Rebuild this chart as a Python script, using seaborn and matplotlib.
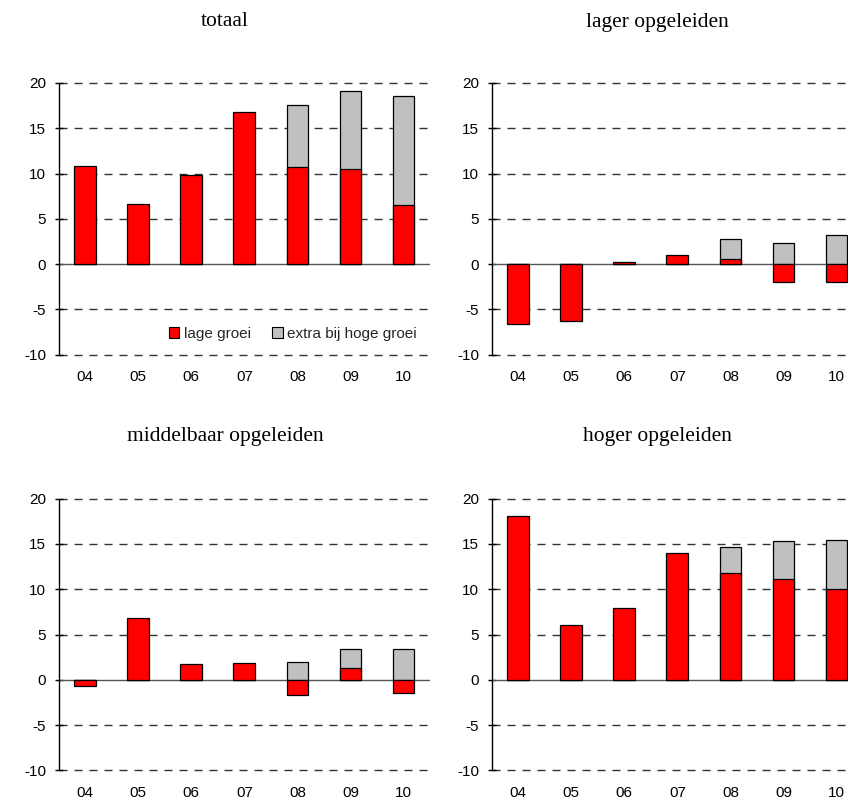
import numpy as np
import pandas as pd
import matplotlib
matplotlib.use("Agg")
import matplotlib.pyplot as plt
import seaborn as sns
from matplotlib.patches import Patch

YEARS = ["04", "05", "06", "07", "08", "09", "10"]

# lage groei (red) and extra bij hoge groei (grey) per group
TOTAAL_LAAG = [10.8, 6.6, 9.8, 16.8, 10.7, 10.5, 6.5]
TOTAAL_EXTRA = [0.0, 0.0, 0.0, 0.0, 6.9, 8.6, 12.1]

LAGER_LAAG = [-6.6, -6.3, 0.2, 1.0, 0.6, -2.0, -2.0]
LAGER_EXTRA = [0.0, 0.0, 0.0, 0.0, 2.2, 2.3, 3.25]

MIDDEL_LAAG = [-0.7, 6.85, 1.75, 1.85, -1.7, 1.25, -1.5]
MIDDEL_EXTRA = [0.0, 0.0, 0.0, 0.0, 2.0, 2.2, 3.45]

HOGER_LAAG = [18.1, 6.1, 7.9, 14.0, 11.75, 11.15, 10.0]
HOGER_EXTRA = [0.0, 0.0, 0.0, 0.0, 2.9, 4.15, 5.45]

PANELS = [
    ("totaal", TOTAAL_LAAG, TOTAAL_EXTRA),
    ("lager opgeleiden", LAGER_LAAG, LAGER_EXTRA),
    ("middelbaar opgeleiden", MIDDEL_LAAG, MIDDEL_EXTRA),
    ("hoger opgeleiden", HOGER_LAAG, HOGER_EXTRA),
]

RED = "#ff0000"
GREY = "#c0c0c0"

sns.set_theme(style="white")
plt.rcParams["font.family"] = ["Liberation Sans", "DejaVu Sans"]
plt.rcParams["axes.unicode_minus"] = False

W, H = 848, 802
fig = plt.figure(figsize=(W / 100, H / 100), dpi=100)

# axes boxes in pixels: left, top, right, bottom
boxes = [
    (58.7, 83.0, 430.0, 354.7),
    (491.7, 83.0, 863.0, 354.7),
    (58.7, 498.7, 430.0, 770.3),
    (491.7, 498.7, 863.0, 770.3),
]
title_pos = [(225, 22), (657, 22), (225, 437), (657, 437)]

for i, (title, laag, extra) in enumerate(PANELS):
    l, t, r, b = boxes[i]
    ax = fig.add_axes([l / W, 1 - b / H, (r - l) / W, (b - t) / H])

    df = pd.DataFrame({"jaar": YEARS, "laag": laag, "extra": extra})
    # grey bar reaches the top of the high-growth scenario, stacked above max(laag, 0)
    df["top"] = np.where(df["extra"] > 0, np.maximum(df["laag"], 0) + df["extra"], 0)

    for yv in [-10, -5, 5, 10, 15, 20]:
        ax.axhline(yv, color="#333333", lw=1.0, ls=(0, (5.8, 5.0)), zorder=0,
                   clip_on=False)
    ax.axhline(0, color="#555555", lw=1.0, zorder=1)

    sns.barplot(data=df, x="jaar", y="top", color=GREY, width=0.41,
                edgecolor="black", linewidth=0.9, saturation=1, ax=ax, zorder=2)
    sns.barplot(data=df, x="jaar", y="laag", color=RED, width=0.41,
                edgecolor="black", linewidth=0.9, saturation=1, ax=ax, zorder=3)

    ax.set_ylim(-10, 20)
    ax.set_xlim(-0.5, 6.5)
    ax.set_yticks([-10, -5, 0, 5, 10, 15, 20])
    ax.set_xlabel("")
    ax.set_ylabel("")
    for s in ["top", "right", "bottom"]:
        ax.spines[s].set_visible(False)
    ax.spines["left"].set_color("black")
    ax.spines["left"].set_linewidth(1.0)
    ax.tick_params(axis="y", direction="inout", length=6, width=1.0,
                   color="black", left=True, labelsize=11, pad=6)
    ax.tick_params(axis="x", length=0, labelsize=11, pad=11)
    for lab in ax.get_xticklabels() + ax.get_yticklabels():
        lab.set_color("black")

    tx, ty = title_pos[i]
    fig.text(tx / W, 1 - ty / H, title, ha="center", va="center",
             fontsize=15.5, family=["Liberation Serif", "DejaVu Serif"], color="black")

    if i == 0:
        handles = [Patch(facecolor=RED, edgecolor="black", lw=0.8),
                   Patch(facecolor=GREY, edgecolor="black", lw=0.8)]
        ax.legend(handles, ["lage groei", "extra bij hoge groei"], ncol=2,
                  loc="center right", bbox_to_anchor=(0.99, 0.076), frameon=False,
                  fontsize=11, handlelength=0.7, handleheight=0.7,
                  handletextpad=0.3, columnspacing=1.4, borderpad=0.1)

fig.savefig("out.png", dpi=100)
